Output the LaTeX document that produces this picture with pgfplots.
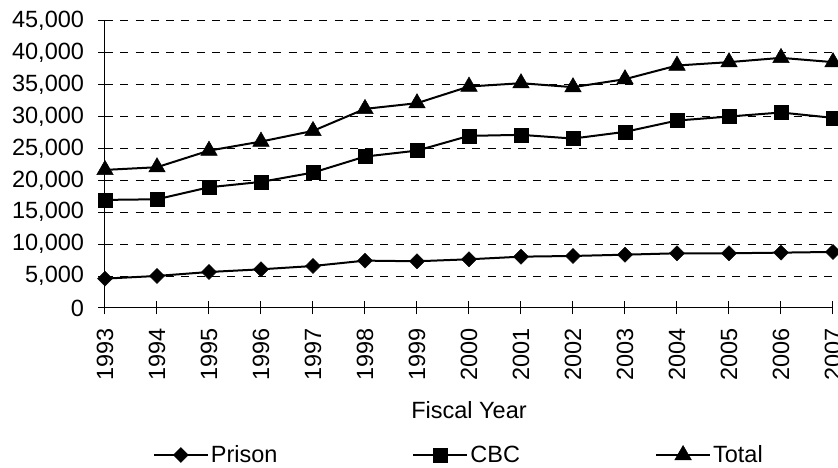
\documentclass[border=0pt]{standalone}
\usepackage{fontspec}
\setmainfont{Liberation Sans}
\usepackage{pgfplots}
\pgfplotsset{compat=1.18}
\begin{document}
\begin{tikzpicture}
\begin{axis}[
  scale only axis, width=728pt, height=287.3pt,
  xmin=1993, xmax=2007, ymin=0, ymax=45000,
  axis x line=bottom, axis y line=left,
  axis line style={-, line width=1pt, black},
  xtick={1993,1994,...,2007},
  ytick={0,5000,...,45000},
  scaled y ticks=false,
  ymajorgrids,
  major grid style={dash pattern=on 8pt off 7.3pt, line width=1pt, black},
  tick align=center, major tick length=13pt,
  tick style={line width=1pt, black},
  /pgf/number format/assume math mode=true,
  ticklabel style={font=\fontsize{23.5}{28}\selectfont},
  yticklabel style={/pgf/number format/1000 sep={,}},
  yticklabel shift=11pt,
  xticklabel shift=10pt,
  xticklabel style={rotate=90, anchor=east, /pgf/number format/1000 sep={}},
  xlabel={Fiscal Year},
  xlabel style={at={(0.5,-0.355)}, anchor=center, font=\fontsize{23.5}{28}\selectfont},
  legend columns=3,
  legend style={at={(0.486,-0.5117)}, anchor=center, draw=none, fill=none,
    font=\fontsize{23.5}{28}\selectfont,
    /tikz/every even column/.append style={column sep=133pt}},
  legend image code/.code={\draw[mark repeat=2,mark phase=2,#1] plot coordinates {(0pt,0pt) (27pt,0pt) (54pt,0pt)};},
  every axis plot/.append style={line width=2pt, black},
]
\addplot[mark=diamond*, mark size=7.5pt, mark options={solid, fill=black, line width=0.5pt, xscale=1.33}] coordinates {
(1993,4600) (1994,5020) (1995,5640) (1996,6060) (1997,6580) (1998,7420) (1999,7320)
(2000,7630) (2001,8040) (2002,8150) (2003,8350) (2004,8570) (2005,8570) (2006,8670) (2007,8780)};
\addlegendentry{Prison}
\addplot[mark=square*, mark size=7pt, mark options={solid, fill=black, line width=0.5pt}] coordinates {
(1993,16930) (1994,17030) (1995,18910) (1996,19750) (1997,21210) (1998,23720) (1999,24650)
(2000,26960) (2001,27120) (2002,26540) (2003,27590) (2004,29360) (2005,29990) (2006,30620) (2007,29780)};
\addlegendentry{CBC}
\addplot[mark=triangle*, mark size=9.5pt, mark options={solid, fill=black, line width=0.5pt}] coordinates {
(1993,21630) (1994,22050) (1995,24650) (1996,26070) (1997,27740) (1998,31190) (1999,32080)
(2000,34690) (2001,35210) (2002,34590) (2003,35840) (2004,37980) (2005,38510) (2006,39180) (2007,38510)};
\addlegendentry{Total}
\end{axis}
\pgfresetboundingbox
\path (-105pt,-160pt) rectangle (733pt,308pt);
\end{tikzpicture}
\end{document}
